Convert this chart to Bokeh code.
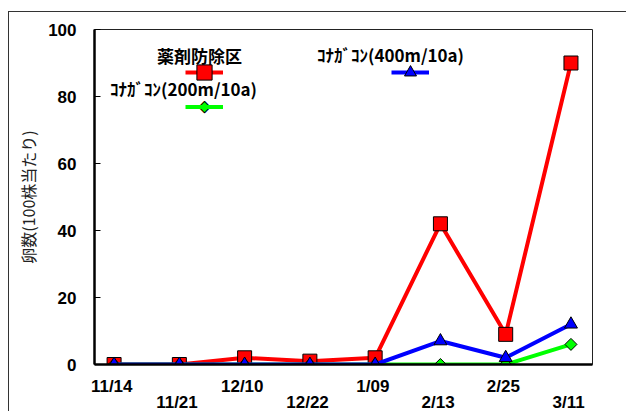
import numpy as np
from bokeh.plotting import figure
from bokeh.models import (Range1d, FixedTicker, LinearAxis, Legend, LegendItem,
                          Label, ColumnDataSource)
from bokeh.embed import file_html
from bokeh.resources import INLINE
from bokeh.core.properties import value

# ---- data ----
dates = ["11/14", "11/21", "12/10", "12/22", "1/09", "2/13", "2/25", "3/11"]
yakuzai = [0, 0, 2, 1, 2, 42, 9, 90]          # 薬剤防除区
kon200 = [0, 0, 0, 0, 0, 0, 0, 6]             # ｺﾅｶﾞｺﾝ(200m/10a)
kon400 = [0, 0, 0, 0, 0, 7, 2, 12]            # ｺﾅｶﾞｺﾝ(400m/10a)
yticks = [0, 20, 40, 60, 80, 100]
series_names = ["薬剤防除区", "ｺﾅｶﾞｺﾝ(200m/10a)", "ｺﾅｶﾞｺﾝ(400m/10a)"]
y_title = "卵数(100株当たり)"

idx = list(range(len(dates)))
src = ColumnDataSource(dict(x=idx, yakuzai=yakuzai, kon200=kon200, kon400=kon400))

FL, FT, FR, FB = 85, 17, 34, 40  # borders around the frame

p = figure(frame_width=498, frame_height=335, output_backend="svg", toolbar_location=None,
           x_range=Range1d(-0.3, 7.33), y_range=Range1d(0, 100),
           x_axis_location=None,
           min_border_left=FL, min_border_top=FT, min_border_right=FR, min_border_bottom=FB,
           margin=(11, 0, 0, 8),
           styles={"border-top": "1px solid #333", "border-left": "1px solid #333"})
p.xgrid.visible = False
p.ygrid.visible = False
p.outline_line_color = "#222222"
p.outline_line_width = 1
p.background_fill_color = "white"
p.border_fill_color = "white"

TICK_FONT = "Liberation Sans"

# y axis
ya = p.yaxis[0]
ya.ticker = FixedTicker(ticks=yticks)
ya.axis_line_color = "black"
ya.axis_line_width = 2.5
ya.major_tick_in = 6
ya.major_tick_out = 0
ya.major_tick_line_color = "black"
ya.minor_tick_line_color = None
ya.major_label_text_font = TICK_FONT
ya.major_label_text_font_style = "bold"
ya.major_label_text_font_size = "17px"
ya.major_label_text_color = "black"
ya.major_label_standoff = 18
ya.axis_label = y_title
ya.axis_label_text_font = "Noto Sans CJK JP"
ya.axis_label_text_font_style = "normal"
ya.axis_label_text_font_size = "16px"
ya.axis_label_text_color = "#222222"
ya.axis_label_standoff = 5

# x axis (staggered labels: odd ones on a second line)
xa = LinearAxis(ticker=FixedTicker(ticks=idx),
                major_label_overrides={i: (dates[i] + " " if i % 2 == 0 else "\n" + dates[i] + " ")
                                       for i in idx})
xa.major_tick_line_color = None
xa.minor_tick_line_color = None
xa.major_tick_in = 0
xa.major_tick_out = 0
xa.major_label_text_font = TICK_FONT
xa.major_label_text_font_style = "bold"
xa.major_label_text_font_size = "17px"
xa.major_label_text_color = "black"
xa.major_label_text_line_height = 0.88
xa.axis_line_color = "black"
xa.axis_line_width = 2.5
xa.major_label_standoff = 12
p.add_layout(xa, "below")

# series
r_line = p.line("x", "yakuzai", source=src, line_color="#ff0000", line_width=4)
r_mk = p.scatter("x", "yakuzai", source=src, marker="square", size=14,
                 fill_color="#ff0000", line_color="black", line_width=1)
g_line = p.line("x", "kon200", source=src, line_color="#00ff00", line_width=4)
g_mk = p.scatter("x", "kon200", source=src, marker="square", angle=np.pi / 4, size=8.5,
                 fill_color="#00ff00", line_color="black", line_width=1)
b_line = p.line("x", "kon400", source=src, line_color="#0000ff", line_width=4)
b_mk = p.scatter("x", "kon400", source=src, marker="triangle", size=13,
                 fill_color="#0000ff", line_color="black", line_width=1)


def add_legend(renderers, gw, gh, loc):
    leg = Legend(items=[LegendItem(label=value(""), renderers=renderers)],
                 location=loc, glyph_width=gw, glyph_height=gh,
                 label_width=0, label_height=0, label_standoff=0,
                 label_text_font_size="1px", padding=0, margin=0, spacing=0,
                 border_line_color=None, background_fill_alpha=0)
    p.add_layout(leg)


add_legend([r_line, r_mk], 38, 38, (91, 273))
add_legend([g_line], 38, 21, (91, 247))
add_legend([b_line, b_mk], 38, 30, (297, 277))

# diamond sample of the green legend entry
p.add_layout(Label(x=110, y=259, x_units="screen", y_units="screen", text="◆",
                   text_font="DejaVu Sans", text_font_size="15px", text_align="center",
                   text_baseline="middle", text_color="#00ff00",
                   text_outline_color="black"))

for name, (lx, ly) in zip(series_names, [(105, 309), (89, 276), (296, 310)]):
    p.add_layout(Label(x=lx, y=ly, x_units="screen", y_units="screen", text=name,
                       text_font="Noto Sans CJK JP", text_font_style="bold",
                       text_font_size="17px", text_align="center",
                       text_baseline="middle", text_color="black"))

open("out.html", "w").write(file_html(p, INLINE))
